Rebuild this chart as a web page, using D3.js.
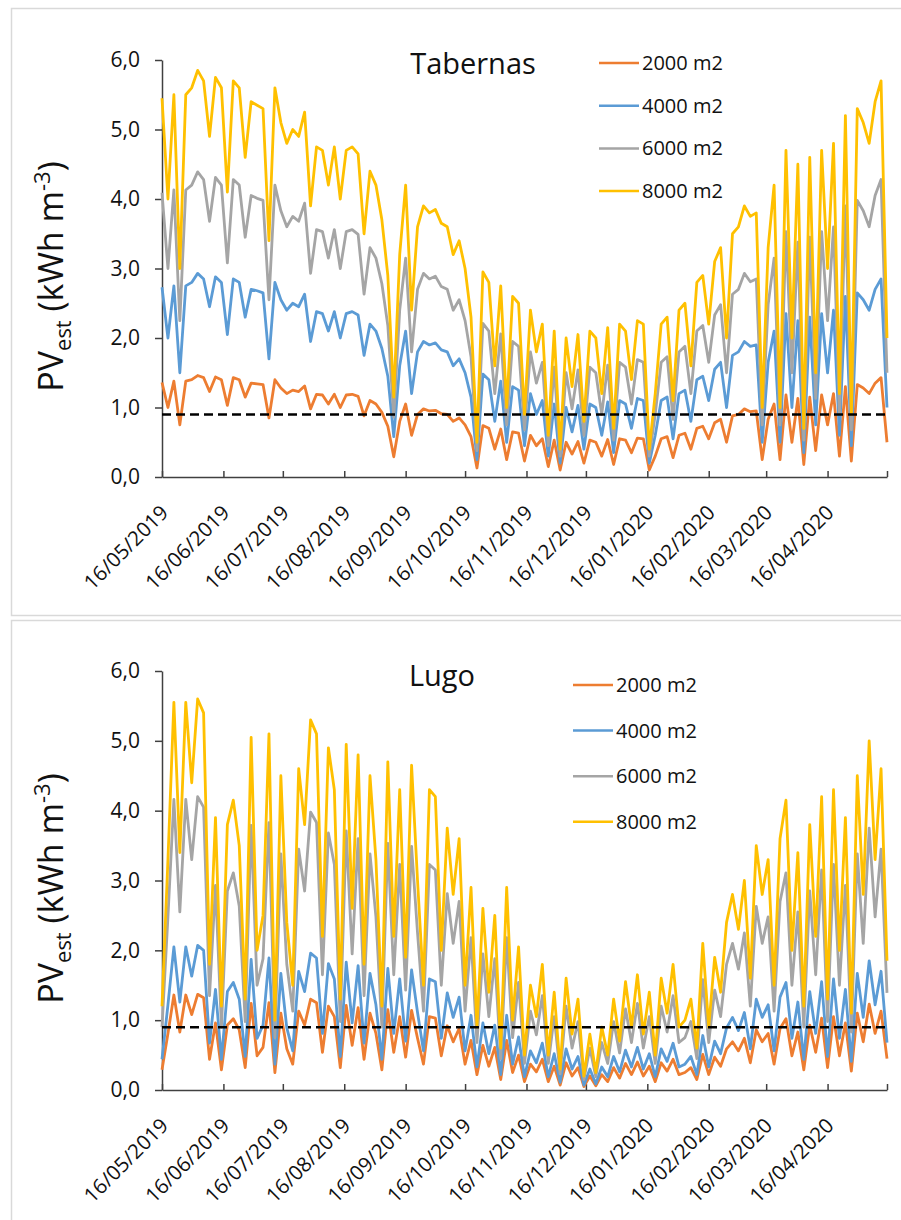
<!DOCTYPE html>
<html>
<head>
<meta charset="utf-8">
<script src="https://cdn.jsdelivr.net/npm/d3@7"></script>
<style>
  body { margin: 0; background: #fff; }
  svg { display: block; }
  text { font-family: "Open Sans", sans-serif; fill: #111; }
</style>
</head>
<body>
<svg id="chart" width="901" height="1220"></svg>
<script>
// one value every 3 days, starting 16/05/2019
const startDate = new Date(Date.UTC(2019, 4, 16));
const stepDays = 3;
const seriesNames = ["2000 m2", "4000 m2", "6000 m2", "8000 m2"];
const seriesColors = ["#ED7D31", "#5B9BD5", "#A5A5A5", "#FFC000"];
const yTicks = [0, 1, 2, 3, 4, 5, 6];
const threshold = 0.9;
const tickDates = d3.range(0, 13).map(m => new Date(Date.UTC(2019, 4 + m, 16)));

// Tabernas
const tab2000 = [1.36,1.0,1.38,0.75,1.38,1.4,1.46,1.43,1.23,1.44,
  1.4,1.03,1.43,1.4,1.15,1.35,1.34,1.33,0.85,1.4,
  1.28,1.2,1.25,1.23,1.31,0.98,1.19,1.18,1.05,1.19,
  1.0,1.18,1.19,1.16,0.88,1.1,1.05,0.93,0.73,0.29,
  0.8,1.05,0.6,0.9,0.98,0.95,0.96,0.91,0.9,0.8,
  0.85,0.75,0.58,0.13,0.74,0.7,0.4,0.69,0.25,0.65,
  0.63,0.23,0.6,0.45,0.55,0.15,0.53,0.1,0.5,0.33,
  0.51,0.2,0.53,0.5,0.3,0.54,0.18,0.55,0.53,0.35,
  0.56,0.55,0.1,0.3,0.55,0.58,0.28,0.6,0.63,0.4,
  0.7,0.73,0.55,0.78,0.83,0.5,0.88,0.9,0.98,0.94,
  0.95,0.25,0.83,1.05,0.25,1.18,0.5,1.13,0.18,1.15,
  0.38,1.18,0.75,1.2,0.3,1.3,0.23,1.33,1.28,1.2,
  1.35,1.43,0.5];
const tab4000 = [2.73,2.0,2.75,1.5,2.75,2.8,2.93,2.85,2.45,2.88,
  2.8,2.05,2.85,2.8,2.3,2.7,2.68,2.65,1.7,2.8,
  2.55,2.4,2.5,2.45,2.63,1.95,2.38,2.35,2.1,2.38,
  2.0,2.35,2.38,2.33,1.75,2.2,2.1,1.85,1.45,0.58,
  1.6,2.1,1.2,1.8,1.95,1.9,1.93,1.83,1.8,1.6,
  1.7,1.5,1.15,0.25,1.48,1.4,0.8,1.38,0.5,1.3,
  1.25,0.45,1.2,0.9,1.1,0.3,1.05,0.2,1.0,0.65,
  1.03,0.4,1.05,1.0,0.6,1.08,0.35,1.1,1.05,0.7,
  1.13,1.1,0.2,0.6,1.1,1.15,0.55,1.2,1.25,0.8,
  1.4,1.45,1.1,1.55,1.65,1.0,1.75,1.8,1.95,1.88,
  1.9,0.5,1.65,2.1,0.5,2.35,1.0,2.25,0.35,2.3,
  0.75,2.35,1.5,2.4,0.6,2.6,0.45,2.65,2.55,2.4,
  2.7,2.85,1.0];
const tab6000 = [4.09,3.0,4.13,2.25,4.13,4.2,4.39,4.28,3.68,4.31,
  4.2,3.08,4.28,4.2,3.45,4.05,4.01,3.98,2.55,4.2,
  3.83,3.6,3.75,3.68,3.94,2.93,3.56,3.53,3.15,3.56,
  3.0,3.53,3.56,3.49,2.63,3.3,3.15,2.78,2.18,0.86,
  2.4,3.15,1.8,2.7,2.93,2.85,2.89,2.74,2.7,2.4,
  2.55,2.25,1.73,0.38,2.21,2.1,1.2,2.06,0.75,1.95,
  1.88,0.68,1.8,1.35,1.65,0.45,1.58,0.3,1.5,0.98,
  1.54,0.6,1.58,1.5,0.9,1.61,0.53,1.65,1.58,1.05,
  1.69,1.65,0.3,0.9,1.65,1.73,0.83,1.8,1.88,1.2,
  2.1,2.18,1.65,2.33,2.48,1.5,2.63,2.7,2.93,2.81,
  2.85,0.75,2.48,3.15,0.75,3.53,1.5,3.38,0.53,3.45,
  1.13,3.53,2.25,3.6,0.9,3.9,0.68,3.98,3.83,3.6,
  4.05,4.28,1.5];
const tab8000 = [5.45,4.0,5.5,3.0,5.5,5.6,5.85,5.7,4.9,5.75,
  5.6,4.1,5.7,5.6,4.6,5.4,5.35,5.3,3.4,5.6,
  5.1,4.8,5.0,4.9,5.25,3.9,4.75,4.7,4.2,4.75,
  4.0,4.7,4.75,4.65,3.5,4.4,4.2,3.7,2.9,1.15,
  3.2,4.2,2.4,3.6,3.9,3.8,3.85,3.65,3.6,3.2,
  3.4,3.0,2.3,0.5,2.95,2.8,1.6,2.75,1.0,2.6,
  2.5,0.9,2.4,1.8,2.2,0.6,2.1,0.4,2.0,1.3,
  2.05,0.8,2.1,2.0,1.2,2.15,0.7,2.2,2.1,1.4,
  2.25,2.2,0.4,1.2,2.2,2.3,1.1,2.4,2.5,1.6,
  2.8,2.9,2.2,3.1,3.3,2.0,3.5,3.6,3.9,3.75,
  3.8,1.0,3.3,4.2,1.0,4.7,2.0,4.5,0.7,4.6,
  1.5,4.7,3.0,4.8,1.2,5.2,0.9,5.3,5.1,4.8,
  5.4,5.7,2.0];

// Lugo
const lugo2000 = [0.29,0.81,1.36,0.83,1.36,1.08,1.37,1.32,0.44,0.96,
  0.29,0.93,1.02,0.86,0.32,1.24,0.49,0.61,1.25,0.25,
  1.1,0.59,0.37,1.13,0.93,1.3,1.25,0.54,1.2,1.05,
  0.32,1.21,0.64,1.18,0.44,1.1,0.81,0.29,1.15,0.54,
  1.05,0.47,1.14,0.74,0.37,1.05,1.03,0.49,0.92,0.69,
  0.88,0.37,0.71,0.22,0.64,0.34,0.61,0.15,0.71,0.25,
  0.5,0.12,0.37,0.26,0.44,0.12,0.34,0.07,0.39,0.2,
  0.32,0.05,0.2,0.06,0.22,0.12,0.32,0.17,0.38,0.22,
  0.4,0.2,0.34,0.12,0.39,0.27,0.44,0.22,0.25,0.32,
  0.15,0.51,0.22,0.47,0.34,0.59,0.69,0.56,0.74,0.39,
  0.86,0.69,0.81,0.37,0.88,1.02,0.49,0.83,0.29,0.93,
  0.54,1.03,0.32,1.05,0.49,0.96,0.27,1.1,0.69,1.23,
  0.81,1.13,0.45];
const lugo4000 = [0.44,1.22,2.05,1.26,2.05,1.63,2.07,2.0,0.67,1.44,
  0.44,1.41,1.54,1.3,0.48,1.87,0.74,0.93,1.89,0.37,
  1.67,0.89,0.56,1.7,1.41,1.96,1.89,0.81,1.81,1.59,
  0.48,1.83,0.96,1.78,0.67,1.67,1.22,0.44,1.74,0.81,
  1.59,0.7,1.72,1.11,0.56,1.59,1.55,0.74,1.39,1.04,
  1.33,0.56,1.07,0.33,0.96,0.52,0.93,0.22,1.07,0.37,
  0.76,0.19,0.56,0.39,0.67,0.19,0.52,0.11,0.59,0.3,
  0.48,0.07,0.3,0.09,0.33,0.19,0.48,0.26,0.57,0.33,
  0.61,0.3,0.52,0.19,0.59,0.41,0.67,0.33,0.37,0.48,
  0.22,0.78,0.33,0.7,0.52,0.89,1.04,0.85,1.11,0.59,
  1.3,1.04,1.22,0.56,1.33,1.54,0.74,1.26,0.44,1.41,
  0.81,1.55,0.48,1.59,0.74,1.44,0.41,1.67,1.04,1.85,
  1.22,1.7,0.68];
const lugo6000 = [0.9,2.48,4.16,2.55,4.16,3.3,4.2,4.05,1.35,2.93,
  0.9,2.85,3.11,2.63,0.98,3.79,1.5,1.88,3.83,0.75,
  3.38,1.8,1.13,3.45,2.85,3.98,3.83,1.65,3.68,3.23,
  0.98,3.71,1.95,3.6,1.35,3.38,2.48,0.9,3.53,1.65,
  3.23,1.43,3.49,2.25,1.13,3.23,3.15,1.5,2.81,2.1,
  2.7,1.13,2.18,0.68,1.95,1.05,1.88,0.45,2.18,0.75,
  1.54,0.38,1.13,0.79,1.35,0.38,1.05,0.23,1.2,0.6,
  0.98,0.15,0.6,0.19,0.68,0.38,0.98,0.53,1.16,0.68,
  1.24,0.6,1.05,0.38,1.2,0.83,1.35,0.68,0.75,0.98,
  0.45,1.58,0.68,1.43,1.05,1.8,2.1,1.73,2.25,1.2,
  2.63,2.1,2.48,1.13,2.7,3.11,1.5,2.55,0.9,2.85,
  1.65,3.15,0.98,3.23,1.5,2.93,0.83,3.38,2.1,3.75,
  2.48,3.45,1.39];
const lugo8000 = [1.2,3.3,5.55,3.4,5.55,4.4,5.6,5.4,1.8,3.9,
  1.2,3.8,4.15,3.5,1.3,5.05,2.0,2.5,5.1,1.0,
  4.5,2.4,1.5,4.6,3.8,5.3,5.1,2.2,4.9,4.3,
  1.3,4.95,2.6,4.8,1.8,4.5,3.3,1.2,4.7,2.2,
  4.3,1.9,4.65,3.0,1.5,4.3,4.2,2.0,3.75,2.8,
  3.6,1.5,2.9,0.9,2.6,1.4,2.5,0.6,2.9,1.0,
  2.05,0.5,1.5,1.05,1.8,0.5,1.4,0.3,1.6,0.8,
  1.3,0.2,0.8,0.25,0.9,0.5,1.3,0.7,1.55,0.9,
  1.65,0.8,1.4,0.5,1.6,1.1,1.8,0.9,1.0,1.3,
  0.6,2.1,0.9,1.9,1.4,2.4,2.8,2.3,3.0,1.6,
  3.5,2.8,3.3,1.5,3.6,4.15,2.0,3.4,1.2,3.8,
  2.2,4.2,1.3,4.3,2.0,3.9,1.1,4.5,2.8,5.0,
  3.3,4.6,1.85];

const panels = [
  { title: "Tabernas", top: 60, bottom: 477, frameY: 8.5, frameH: 607,
    titleX: 473, titleY: 74, legX: 599, legY: 63, legStep: 42.7,
    series: [tab2000, tab4000, tab6000, tab8000] },
  { title: "Lugo", top: 671, bottom: 1090, frameY: 620.5, frameH: 700,
    titleX: 442, titleY: 686, legX: 573, legY: 685, legStep: 45.6,
    series: [lugo2000, lugo4000, lugo6000, lugo8000] }
];

const svg = d3.select("#chart");
const plotLeft = 162, plotRight = 887;
const fmtDate = d3.utcFormat("%d/%m/%Y");
const fmtVal = d => d3.format(".1f")(d).replace(".", ",");

panels.forEach(p => {
  const g = svg.append("g");

  g.append("rect")
    .attr("x", 11.5).attr("y", p.frameY)
    .attr("width", 900).attr("height", p.frameH)
    .attr("fill", "none").attr("stroke", "#d9d9d9").attr("stroke-width", 1.5);

  const x = d3.scaleUtc()
    .domain([tickDates[0], tickDates[tickDates.length - 1]])
    .range([plotLeft, plotRight]);
  const y = d3.scaleLinear().domain([0, 6]).range([p.bottom, p.top]);

  // y axis
  const yAxis = g.append("g")
    .attr("transform", `translate(${plotLeft},0)`)
    .call(d3.axisLeft(y).tickValues(yTicks).tickSize(7).tickSizeOuter(0)
      .tickPadding(15).tickFormat(fmtVal));
  yAxis.attr("font-family", null).attr("font-size", null);
  yAxis.selectAll("path, line").attr("stroke", "#404040").attr("stroke-width", 1.5);
  yAxis.selectAll("text").style("font-size", "21px");

  // x axis
  const xAxis = g.append("g")
    .attr("transform", `translate(0,${p.bottom})`)
    .call(d3.axisBottom(x).tickValues(tickDates).tickSize(-6).tickSizeOuter(0)
      .tickFormat((d, i) => i < tickDates.length - 1 ? fmtDate(d) : ""));
  xAxis.attr("font-family", null).attr("font-size", null);
  xAxis.selectAll("path, line").attr("stroke", "#404040").attr("stroke-width", 1.5);
  xAxis.selectAll("text")
    .attr("x", 0).attr("y", 0).attr("dy", null)
    .attr("text-anchor", "end")
    .attr("transform", "translate(7,37) rotate(-45)")
    .style("font-size", "20.5px");

  // series
  const line = d3.line()
    .x((v, i) => x(d3.utcDay.offset(startDate, i * stepDays)))
    .y(v => y(v));
  p.series.forEach((vals, k) => {
    g.append("path")
      .datum(vals)
      .attr("d", line)
      .attr("fill", "none")
      .attr("stroke", seriesColors[k])
      .attr("stroke-width", 2.8)
      .attr("stroke-linejoin", "round");
  });

  // threshold
  g.append("line")
    .attr("x1", plotLeft).attr("x2", plotRight)
    .attr("y1", y(threshold)).attr("y2", y(threshold))
    .attr("stroke", "#000").attr("stroke-width", 2.5)
    .attr("stroke-dasharray", "9,5");

  // title
  g.append("text")
    .attr("x", p.titleX).attr("y", p.titleY)
    .attr("text-anchor", "middle")
    .style("font-size", "29px")
    .text(p.title);

  // legend
  seriesNames.forEach((name, k) => {
    const ly = p.legY + k * p.legStep;
    g.append("line")
      .attr("x1", p.legX).attr("x2", p.legX + 40)
      .attr("y1", ly).attr("y2", ly)
      .attr("stroke", seriesColors[k]).attr("stroke-width", 2.5);
    g.append("text")
      .attr("x", p.legX + 43).attr("y", ly)
      .attr("dy", "0.35em")
      .style("font-size", "20px")
      .text(name);
  });

  // y axis title
  const mid = (p.top + p.bottom) / 2 + 8;
  const yt = g.append("text")
    .attr("transform", `translate(63,${mid}) rotate(-90)`)
    .attr("text-anchor", "middle")
    .style("font-size", "34px");
  yt.append("tspan").text("PV");
  yt.append("tspan").attr("dy", 8).style("font-size", "22px").text("est");
  yt.append("tspan").attr("dy", -8).text(" (kWh m");
  yt.append("tspan").attr("dy", -13).style("font-size", "22px").text("-3");
  yt.append("tspan").attr("dy", 13).text(")");
});
</script>
</body>
</html>
